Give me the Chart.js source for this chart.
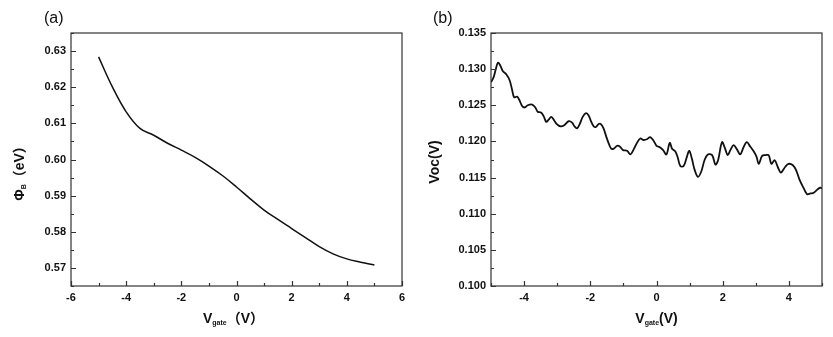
<!DOCTYPE html>
<html>
<head>
<meta charset="utf-8">
<script src="https://cdn.jsdelivr.net/npm/chart.js@4.4.1/dist/chart.umd.min.js"></script>
<style>
    body { margin: 0; background: #fff; }
    .panel { position: absolute; top: 0; }
    #panelA { left: 0; }
    #panelB { left: 420px; }
</style>
</head>
<body>
<div class="panel" id="panelA"><canvas id="chartA" width="420" height="337"></canvas></div>
<div class="panel" id="panelB"><canvas id="chartB" width="413" height="337"></canvas></div>
<script>
// (a) barrier height vs gate voltage
const vgateA = [-5, -4.5, -4, -3.5, -3, -2.5, -2, -1.5, -1, -0.5, 0, 0.5, 1, 1.5, 2, 2.5, 3, 3.5, 4, 4.5, 5];
const phiB = [0.6284, 0.6201, 0.6132, 0.6086, 0.6067, 0.6045, 0.6026, 0.6006, 0.5982, 0.5955, 0.5924,
    0.5891, 0.5860, 0.5834, 0.5809, 0.5784, 0.5759, 0.5739, 0.5725, 0.5716, 0.5708];
const xTicksA = [-6, -4, -2, 0, 2, 4, 6];
const xMinorA = [-5, -3, -1, 1, 3, 5];
const yTicksA = [0.57, 0.58, 0.59, 0.60, 0.61, 0.62, 0.63];
const yMinorA = [0.565, 0.575, 0.585, 0.595, 0.605, 0.615, 0.625, 0.635];

// (b) open-circuit voltage vs gate voltage
const vgateB = [-5.00, -4.92, -4.86, -4.79, -4.72, -4.64, -4.54, -4.44, -4.37, -4.30, -4.21, -4.15, -4.06, -3.98,
    -3.89, -3.76, -3.66, -3.59, -3.49, -3.41, -3.33, -3.26, -3.18, -3.09, -3.01, -2.91, -2.80, -2.65, -2.55,
    -2.48, -2.40, -2.32, -2.23, -2.13, -2.05, -1.98, -1.90, -1.83, -1.75, -1.68, -1.60, -1.52, -1.45, -1.37,
    -1.29, -1.19, -1.11, -1.01, -0.89, -0.79, -0.69, -0.59, -0.49, -0.39, -0.29, -0.19, -0.09, 0.00, 0.10,
    0.20, 0.30, 0.40, 0.47, 0.57, 0.64, 0.72, 0.82, 0.92, 0.99, 1.07, 1.15, 1.25, 1.35, 1.45, 1.55, 1.68,
    1.78, 1.86, 1.98, 2.08, 2.15, 2.23, 2.33, 2.43, 2.53, 2.63, 2.73, 2.83, 2.94, 3.02, 3.09, 3.19, 3.29,
    3.39, 3.47, 3.57, 3.66, 3.76, 3.89, 3.99, 4.12, 4.22, 4.33, 4.45, 4.55, 4.65, 4.75, 4.85, 4.95, 5.00];
const voc = [0.1282, 0.1289, 0.1299, 0.1309, 0.1305, 0.1297, 0.1293, 0.1285, 0.1273, 0.1261, 0.1262, 0.1258,
    0.1249, 0.1247, 0.1250, 0.1251, 0.1247, 0.1241, 0.1240, 0.1235, 0.1227, 0.1230, 0.1234, 0.1229, 0.1224,
    0.1221, 0.1222, 0.1228, 0.1226, 0.1221, 0.1218, 0.1224, 0.1234, 0.1239, 0.1236, 0.1228, 0.1221, 0.1220,
    0.1224, 0.1224, 0.1218, 0.1207, 0.1198, 0.1190, 0.1190, 0.1194, 0.1193, 0.1188, 0.1187, 0.1182, 0.1189,
    0.1198, 0.1204, 0.1202, 0.1203, 0.1206, 0.1201, 0.1194, 0.1192, 0.1188, 0.1182, 0.1198, 0.1190, 0.1186,
    0.1178, 0.1166, 0.1166, 0.1179, 0.1187, 0.1176, 0.1161, 0.1151, 0.1158, 0.1174, 0.1182, 0.1181, 0.1168,
    0.1174, 0.1199, 0.1189, 0.1181, 0.1188, 0.1195, 0.1189, 0.1182, 0.1192, 0.1199, 0.1193, 0.1186, 0.1179,
    0.1169, 0.1180, 0.1181, 0.1181, 0.1169, 0.1174, 0.1165, 0.1157, 0.1165, 0.1169, 0.1167, 0.1160, 0.1146,
    0.1135, 0.1127, 0.1128, 0.1129, 0.1133, 0.1136, 0.1135];
const xTicksB = [-4, -2, 0, 2, 4];
const xMinorB = [-5, -3, -1, 1, 3, 5];
const yTicksB = [0.100, 0.105, 0.110, 0.115, 0.120, 0.125, 0.130, 0.135];
const yMinorB = [0.1025, 0.1075, 0.1125, 0.1175, 0.1225, 0.1275, 0.1325];

const INK = "#111";
const TICK_FONT = { family: "'Liberation Sans', Arial, sans-serif", size: 11, weight: "bold" };
const BOLD = "bold 14px 'Liberation Sans', 'Noto Sans CJK SC', sans-serif";
const SUB = "bold 7px 'Liberation Sans', sans-serif";

function drawRuns(ctx, runs, cx, cy, rotate) {
    ctx.save();
    ctx.translate(cx, cy);
    if (rotate) ctx.rotate(-Math.PI / 2);
    let total = 0;
    runs.forEach(r => { ctx.font = r.font; r.w = ctx.measureText(r.text).width; total += r.w; });
    let x = -total / 2;
    ctx.textBaseline = "middle";
    ctx.textAlign = "left";
    ctx.fillStyle = INK;
    runs.forEach(r => {
        ctx.font = r.font;
        ctx.fillText(r.text, x, r.dy || 0);
        x += r.w;
    });
    ctx.restore();
}

// frame, inward ticks and rich-text labels
function framePlugin(opts) {
    return {
        id: "frame",
        afterDraw(chart) {
            const { ctx, chartArea: a, scales } = chart;
            ctx.save();
            ctx.strokeStyle = "#333";
            ctx.lineWidth = 1.2;
            ctx.strokeRect(a.left, a.top, a.right - a.left, a.bottom - a.top);
            ctx.beginPath();
            const tick = (vals, len, sc, horiz) => vals.forEach(v => {
                const p = Math.round(sc.getPixelForValue(v)) + 0.5;
                if (horiz) { ctx.moveTo(p, a.bottom); ctx.lineTo(p, a.bottom - len); }
                else { ctx.moveTo(a.left, p); ctx.lineTo(a.left + len, p); }
            });
            tick(opts.xMajor, 5, scales.x, true);
            tick(opts.xMinor, 3, scales.x, true);
            tick(opts.yMajor, 5, scales.y, false);
            tick(opts.yMinor, 3, scales.y, false);
            ctx.stroke();
            ctx.restore();

            drawRuns(ctx, opts.xTitle, (a.left + a.right) / 2 + opts.xTitleDx, 319, false);
            drawRuns(ctx, opts.yTitle, opts.yTitleX, opts.yTitleY, true);

            ctx.save();
            ctx.font = "16px 'Liberation Sans', sans-serif";
            ctx.fillStyle = INK;
            ctx.textBaseline = "middle";
            ctx.fillText(opts.tag, opts.tagX, 19);
            ctx.restore();
        }
    };
}

function makeChart(id, xs, ys, cfg) {
    const points = xs.map((x, i) => ({ x, y: ys[i] }));
    return new Chart(document.getElementById(id), {
        type: "line",
        data: {
            datasets: [{
                data: points,
                borderColor: INK,
                borderWidth: cfg.lineWidth,
                pointRadius: 0,
                tension: cfg.tension
            }]
        },
        options: {
            responsive: false,
            animation: false,
            layout: { padding: { top: 33, right: cfg.padRight, left: 0, bottom: 0 } },
            plugins: { legend: { display: false }, tooltip: { enabled: false } },
            scales: {
                x: {
                    type: "linear",
                    min: cfg.xMin,
                    max: cfg.xMax,
                    grid: { display: false, drawTicks: false },
                    border: { display: false },
                    afterBuildTicks: s => { s.ticks = cfg.xTicks.map(v => ({ value: v })); },
                    afterFit: s => { s.height = 51; },
                    ticks: { font: TICK_FONT, color: INK, padding: 5, maxRotation: 0, callback: v => String(v) }
                },
                y: {
                    min: cfg.yMin,
                    max: cfg.yMax,
                    grid: { display: false, drawTicks: false },
                    border: { display: false },
                    afterBuildTicks: s => { s.ticks = cfg.yTicks.map(v => ({ value: v })); },
                    afterFit: s => { s.width = 71; },
                    ticks: { font: TICK_FONT, color: INK, padding: 5, callback: v => v.toFixed(cfg.decimals) }
                }
            }
        },
        plugins: [framePlugin(cfg.frame)]
    });
}

makeChart("chartA", vgateA, phiB, {
    xMin: -6, xMax: 6, yMin: 0.565, yMax: 0.635, xTicks: xTicksA, yTicks: yTicksA,
    decimals: 2, padRight: 18, lineWidth: 1.5, tension: 0.4,
    frame: {
        xMajor: xTicksA, xMinor: xMinorA, yMajor: yTicksA, yMinor: yMinorA,
        xTitle: [{ text: "V", font: BOLD }, { text: "gate", font: SUB, dy: 4 }, { text: "（V）", font: BOLD }],
        xTitleDx: -3,
        yTitle: [{ text: "Φ", font: BOLD }, { text: "B", font: SUB, dy: 4 }, { text: "（eV）", font: BOLD }],
        yTitleX: 20, yTitleY: 170,
        tag: "(a)", tagX: 44
    }
});

makeChart("chartB", vgateB, voc, {
    xMin: -5, xMax: 5, yMin: 0.100, yMax: 0.135, xTicks: xTicksB, yTicks: yTicksB,
    decimals: 3, padRight: 11, lineWidth: 1.8, tension: 0.35,
    frame: {
        xMajor: xTicksB, xMinor: xMinorB, yMajor: yTicksB, yMinor: yMinorB,
        xTitle: [{ text: "V", font: BOLD }, { text: "gate", font: SUB, dy: 4 }, { text: "(V)", font: BOLD }],
        xTitleDx: 0,
        yTitle: [{ text: "Voc(V)", font: BOLD }],
        yTitleX: 15, yTitleY: 162,
        tag: "(b)", tagX: 13
    }
});
</script>
</body>
</html>
